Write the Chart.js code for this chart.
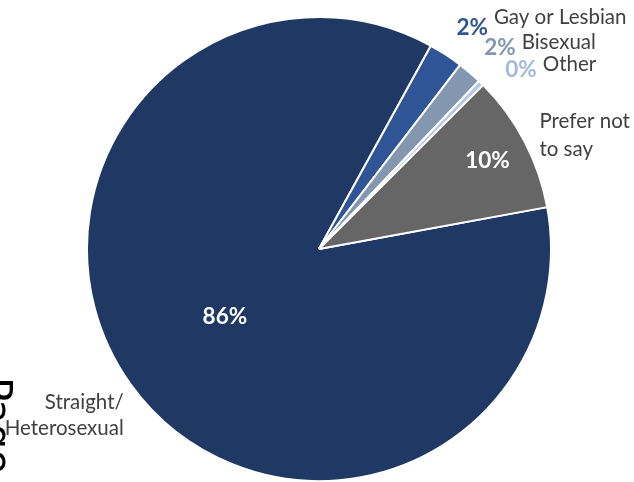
<!DOCTYPE html>
<html>
<head>
<meta charset="utf-8">
<script src="https://cdn.jsdelivr.net/npm/chart.js@4"></script>
<style>
  html, body { margin: 0; padding: 0; background: #fff; }
  #wrap { width: 634px; height: 482px; position: relative; }
</style>
</head>
<body>
<div id="wrap"><canvas id="myChart"></canvas></div>
<script>
// data (percent of respondents)
const categories = ['Straight/\nHeterosexual', 'Gay or Lesbian', 'Bisexual', 'Other', 'Prefer not\nto say'];
const shares = [85.9, 2.4, 1.7, 0.4, 9.6];
const sliceColors = ['#203864', '#2f5597', '#8497b0', '#b4c7e7', '#666666'];
const pctColors = ['#ffffff', '#2f5597', '#8497b0', '#a3b9e0', '#ffffff'];

const ctx = document.getElementById('myChart').getContext('2d');

// where each label sits, relative to the slice it belongs to
// k = fraction of radius along the middle angle, dx/dy = nudge in px
const labelLayout = [
    { k: 0.5, dx: 0, dy: 0, name: { k: 1.0, dx: -7, dy: 31, align: 'right', lh: 26 } },
    { k: 1.16, dx: 6, dy: 4, name: { after: true, dy: -10 } },
    { k: 1.16, dx: 6, dy: 3, name: { after: true, dy: -5 } },
    { k: 1.16, dx: 14, dy: 13, name: { after: true, dy: -5 } },
    { k: 0.82, dx: 0, dy: 0, name: { k: 1.0, dx: 15, dy: -6, align: 'left', lh: 28 } }
];

const pctFont = 'bold 22.5px Lato, "Open Sans", sans-serif';
const nameFont = '20.5px Lato, "Open Sans", sans-serif';

// draws the percent + category labels
const pieLabels = {
    id: 'pieLabels',
    afterDatasetsDraw(chart) {
        const c = chart.ctx;
        const meta = chart.getDatasetMeta(0);
        const total = shares.reduce((a, b) => a + b, 0);
        c.save();
        c.textBaseline = 'middle';
        meta.data.forEach((arc, i) => {
            const p = arc.getProps(['x', 'y', 'startAngle', 'endAngle', 'outerRadius'], true);
            const mid = (p.startAngle + p.endAngle) / 2;
            const L = labelLayout[i];
            const px = p.x + Math.cos(mid) * p.outerRadius * L.k + L.dx;
            const py = p.y + Math.sin(mid) * p.outerRadius * L.k + L.dy;
            const pct = Math.round(shares[i] / total * 100) + '%';

            c.font = pctFont;
            c.fillStyle = pctColors[i];
            c.textAlign = 'center';
            c.fillText(pct, px, py);

            // category name
            c.font = nameFont;
            c.fillStyle = '#404040';
            const lines = categories[i].split('\n');
            const lh = L.name.lh || 26;
            let nx, ny;
            if (L.name.after) {
                c.font = pctFont;
                const w = c.measureText(pct).width;
                c.font = nameFont;
                nx = px + w / 2 + 6;
                ny = py + L.name.dy;
                c.textAlign = 'left';
            } else {
                nx = p.x + Math.cos(mid) * p.outerRadius * L.name.k + L.name.dx;
                ny = p.y + Math.sin(mid) * p.outerRadius * L.name.k + L.name.dy;
                c.textAlign = L.name.align;
            }
            const top = ny - (lines.length - 1) * lh / 2;
            lines.forEach((ln, j) => c.fillText(ln, nx, top + j * lh));
        });

        // stray rotated "Page" text cut off at the left border of the scan
        c.save();
        c.translate(-17, 377);
        c.rotate(Math.PI / 2);
        c.font = '40px "DejaVu Sans", sans-serif';
        c.fillStyle = '#000';
        c.textAlign = 'left';
        c.textBaseline = 'alphabetic';
        c.fillText('Page', 0, 0);
        c.restore();

        c.restore();
    }
};

const pieChart = new Chart(ctx, {
    type: 'pie',
    data: {
        labels: categories,
        datasets: [{
            data: shares,
            backgroundColor: sliceColors,
            borderColor: '#ffffff',
            borderWidth: 2
        }]
    },
    options: {
        responsive: true,
        maintainAspectRatio: false,
        animation: false,
        rotation: 79.6,
        layout: { padding: { left: 86, right: 82, top: 16, bottom: 0 } },
        plugins: {
            legend: { display: false },
            tooltip: { enabled: false }
        }
    },
    plugins: [pieLabels]
});
</script>
</body>
</html>
